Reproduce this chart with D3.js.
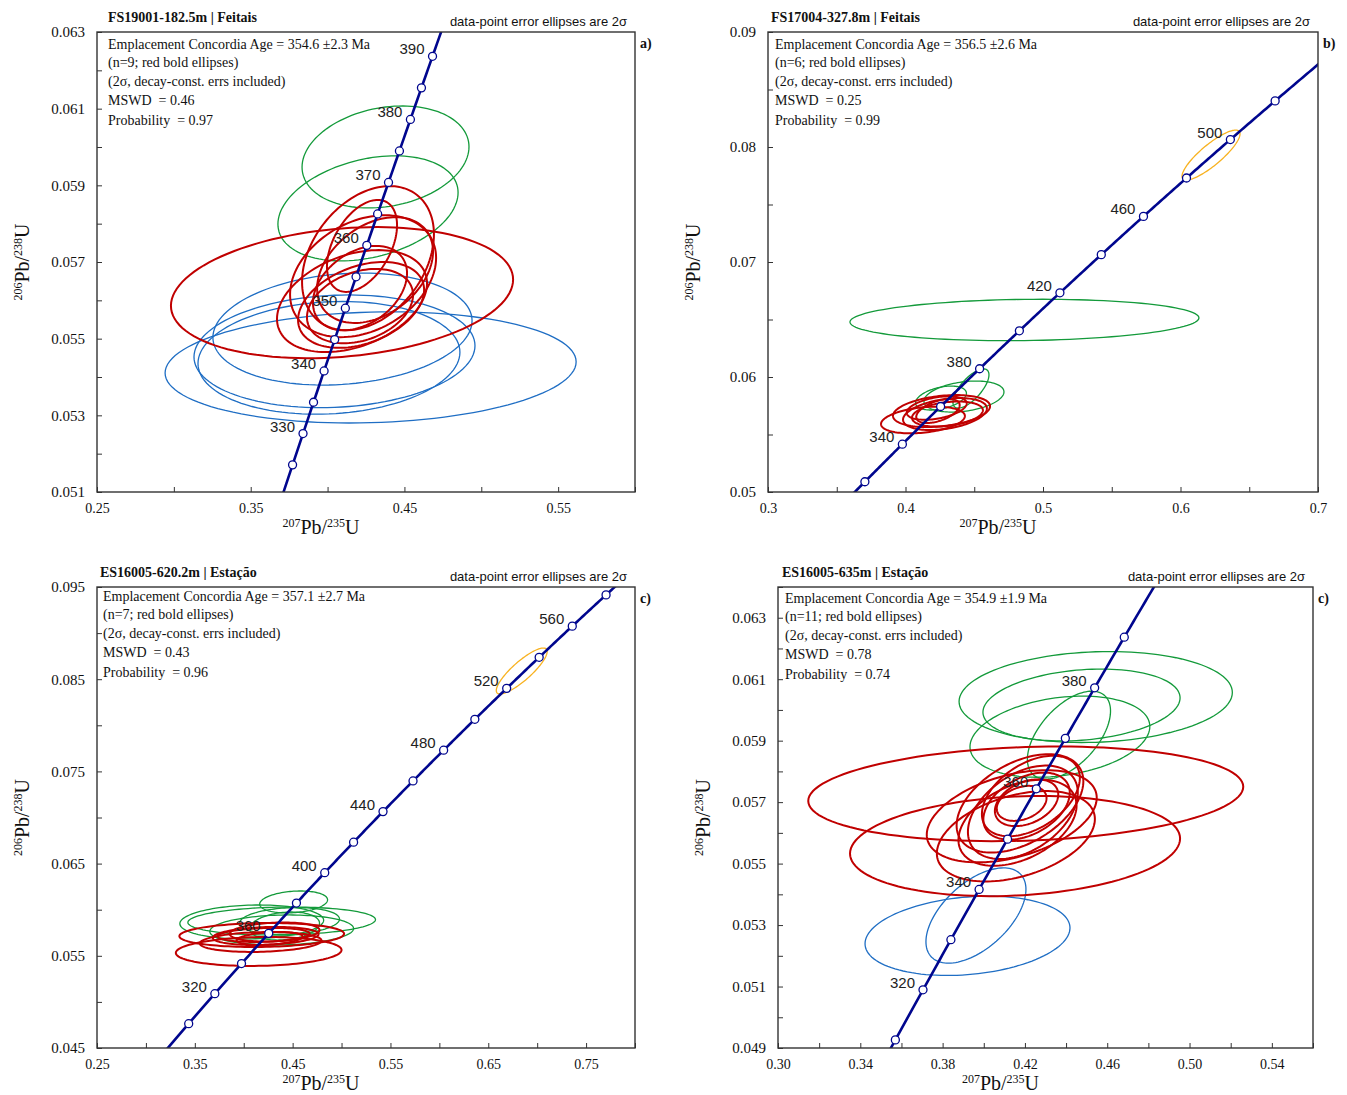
<!DOCTYPE html>
<html>
<head>
<meta charset="utf-8">
<script src="https://cdn.jsdelivr.net/npm/d3@7"></script>
<style>
  body { margin: 0; background: #fff; }
  svg text { font-family: "Liberation Serif", "Times New Roman", serif; fill: #111; }
  svg text.sans { font-family: "Liberation Sans", Arial, sans-serif; }
</style>
</head>
<body>
<div id="chart"></div>
<script>
/* decay constants (per year) */
const L238 = 1.55125e-10, L235 = 9.8485e-10;

/* ---- DATA: ellipses are [x, y, 2s_x, 2s_y, rho] ---- */
const aGreen = [[0.4377,0.05974,0.0543,0.00133,0.2],[0.4263,0.05840,0.0586,0.00137,0.3]];
const aRed = [[0.4094,0.05620,0.1113,0.00171,0.2],[0.4224,0.05742,0.0228,0.00120,0.45],
  [0.4263,0.05710,0.0429,0.00188,0.33],[0.4231,0.05663,0.0475,0.00159,0.3],
  [0.4159,0.05598,0.0488,0.00133,0.35],[0.4218,0.05588,0.0410,0.00112,0.35],
  [0.4211,0.05632,0.0306,0.00110,0.35],[0.4211,0.05585,0.0345,0.00097,0.3],
  [0.4309,0.05679,0.0377,0.00138,0.35]];
const aBlue = [[0.4280,0.05425,0.1337,0.00145,0.1],[0.4097,0.05525,0.0843,0.00146,0.15],
  [0.4045,0.05467,0.0914,0.00147,0.1],[0.4009,0.05450,0.0852,0.00147,0.1]];

const bGreen = [[0.4865,0.06496,0.1269,0.0018,0.1],[0.4476,0.0590,0.0131,0.0017,0.7],
  [0.4258,0.05817,0.0185,0.00104,0.4],[0.4425,0.0583,0.0291,0.00135,0.3]];
const bRed = [[0.4127,0.05626,0.0305,0.00116,0.3],[0.4262,0.05704,0.0353,0.00139,0.3],
  [0.4287,0.05678,0.0305,0.00139,0.35],[0.4305,0.05678,0.0258,0.00109,0.3],
  [0.4227,0.0573,0.0218,0.00102,0.4],[0.4236,0.05704,0.0158,0.00104,0.5]];
const bOrange = [[0.6222,0.0793,0.0211,0.00217,0.85]];

const cGreen = [[0.4510,0.06084,0.0347,0.00119,0.2],[0.4388,0.05877,0.0959,0.00152,0.1],
  [0.4082,0.05867,0.0735,0.00184,0.1],[0.4469,0.05877,0.0510,0.00146,0.15],
  [0.4388,0.05780,0.0735,0.00163,0.1],[0.4418,0.05823,0.0357,0.00152,0.2]];
const cRed = [[0.4153,0.05547,0.0847,0.00157,0.1],[0.4184,0.05726,0.0842,0.00130,0.1],
  [0.4173,0.05650,0.0622,0.00108,0.15],[0.4224,0.05715,0.0541,0.00098,0.2],
  [0.4316,0.05758,0.0459,0.00103,0.2],[0.4265,0.05688,0.0337,0.00070,0.3],
  [0.4204,0.05726,0.0469,0.00076,0.2]];
const cOrange = [[0.6842,0.08589,0.0260,0.00249,0.85]];

const dGreen = [[0.4544,0.06042,0.0664,0.00148,0.1],[0.4475,0.06016,0.0479,0.00117,0.2],
  [0.4370,0.05913,0.0437,0.00132,0.25],[0.4414,0.05918,0.0202,0.00143,0.55]];
const dRed = [[0.4204,0.05727,0.1057,0.00154,0.15],[0.4152,0.05557,0.0802,0.00163,0.15],
  [0.4136,0.05654,0.0413,0.00150,0.4],[0.4156,0.05589,0.0384,0.00147,0.38],
  [0.4176,0.05696,0.0308,0.00160,0.45],[0.4190,0.05667,0.0267,0.00152,0.42],
  [0.4229,0.05720,0.0238,0.00131,0.45],[0.4208,0.05687,0.0210,0.00109,0.4],
  [0.4208,0.05698,0.0154,0.00076,0.35],[0.4184,0.05696,0.0121,0.00057,0.3],
  [0.4164,0.05633,0.0287,0.00140,0.4]];
const dBlue = [[0.3921,0.05265,0.0498,0.00129,0.2],[0.3962,0.05331,0.0243,0.00155,0.55]];

/* concordia marker ages (Ma) and labelled ages */
const aMarks = d3.range(325, 391, 5), aLabels = [330, 340, 350, 360, 370, 380, 390];
const bMarks = d3.range(320, 521, 20), bLabels = [340, 380, 420, 460, 500];
const cMarks = d3.range(300, 581, 20), cLabels = [320, 360, 400, 440, 480, 520, 560];
const dMarks = d3.range(310, 391, 10), dLabels = [320, 340, 360, 380];

/* axis ticks */
const aXMajor = [0.25, 0.35, 0.45, 0.55], aXMinor = [0.30, 0.40, 0.50, 0.60];
const aYMajor = [0.051, 0.053, 0.055, 0.057, 0.059, 0.061, 0.063], aYMinor = [0.052, 0.054, 0.056, 0.058, 0.060, 0.062];
const bXMajor = [0.3, 0.4, 0.5, 0.6, 0.7], bXMinor = [0.35, 0.45, 0.55, 0.65];
const bYMajor = [0.05, 0.06, 0.07, 0.08, 0.09], bYMinor = [0.055, 0.065, 0.075, 0.085];
const cXMajor = [0.25, 0.35, 0.45, 0.55, 0.65, 0.75], cXMinor = [0.30, 0.40, 0.50, 0.60, 0.70, 0.80];
const cYMajor = [0.045, 0.055, 0.065, 0.075, 0.085, 0.095], cYMinor = [0.05, 0.06, 0.07, 0.08, 0.09];
const dXMajor = [0.30, 0.34, 0.38, 0.42, 0.46, 0.50, 0.54], dXMinor = [0.32, 0.36, 0.40, 0.44, 0.48, 0.52, 0.56];
const dYMajor = [0.049, 0.051, 0.053, 0.055, 0.057, 0.059, 0.061, 0.063], dYMinor = [0.050, 0.052, 0.054, 0.056, 0.058, 0.060, 0.062, 0.064];

const titles = ["FS19001-182.5m | Feitais", "FS17004-327.8m | Feitais", "ES16005-620.2m | Estação", "ES16005-635m | Estação"];
const panelTags = ["a)", "b)", "c)", "c)"];
const ageTexts = ["Emplacement Concordia Age = 354.6 \u00b12.3 Ma", "Emplacement Concordia Age = 356.5 \u00b12.6 Ma",
  "Emplacement Concordia Age = 357.1 \u00b12.7 Ma", "Emplacement Concordia Age = 354.9 \u00b11.9 Ma"];
const nTexts = ["(n=9; red bold ellipses)", "(n=6; red bold ellipses)", "(n=7; red bold ellipses)", "(n=11; red bold ellipses)"];
const mswd = ["0.46", "0.25", "0.43", "0.78"];
const prob = ["0.97", "0.99", "0.96", "0.74"];

/* ---- layout ---- */
const width = 1347, height = 1095;
const svg = d3.select('#chart').append('svg').attr('width', width).attr('height', height);

const COLORS = { red: '#c00000', green: '#139a3a', blue: '#1f6ec4', orange: '#f8b220' };

const panels = [
  { box: [97, 635, 32, 492], xd: [0.25, 0.60], yd: [0.051, 0.063], xMaj: aXMajor, xMin: aXMinor, yMaj: aYMajor, yMin: aYMinor,
    xf: '.2f', yf: '.3f', marks: aMarks, labels: aLabels, sets: [['green', aGreen], ['blue', aBlue], ['red', aRed]], tx: 108 },
  { box: [768, 1318, 32, 492], xd: [0.3, 0.7], yd: [0.05, 0.09], xMaj: bXMajor, xMin: bXMinor, yMaj: bYMajor, yMin: bYMinor,
    xf: '.1f', yf: '.2f', marks: bMarks, labels: bLabels, sets: [['green', bGreen], ['orange', bOrange], ['red', bRed]], tx: 775 },
  { box: [97, 635, 587, 1048], xd: [0.25, 0.80], yd: [0.045, 0.095], xMaj: cXMajor, xMin: cXMinor, yMaj: cYMajor, yMin: cYMinor,
    xf: '.2f', yf: '.3f', marks: cMarks, labels: cLabels, sets: [['green', cGreen], ['orange', cOrange], ['red', cRed]], tx: 103 },
  { box: [778, 1313, 587, 1048], xd: [0.30, 0.56], yd: [0.049, 0.064], xMaj: dXMajor, xMin: dXMinor, yMaj: dYMajor, yMin: dYMinor,
    xf: '.2f', yf: '.3f', marks: dMarks, labels: dLabels, sets: [['green', dGreen], ['blue', dBlue], ['red', dRed]], tx: 785 }
];

function conc(t) { // t in Ma
  return [Math.exp(L235 * t * 1e6) - 1, Math.exp(L238 * t * 1e6) - 1];
}
function ellipsePts(e) {
  const [cx, cy, sx, sy, r] = e, q = Math.sqrt(1 - r * r);
  return d3.range(0, 361, 3).map(a => {
    const th = a * Math.PI / 180;
    return [cx + sx * Math.cos(th), cy + sy * (r * Math.cos(th) + q * Math.sin(th))];
  });
}

function ratioLabel(g, x, y, topIso, el, botIso, rot) {
  const t = g.append('text').attr('text-anchor', 'middle')
    .attr('transform', `translate(${x},${y})` + (rot ? ' rotate(-90)' : ''));
  t.append('tspan').attr('font-size', 12).attr('dy', -7).text(topIso);
  t.append('tspan').attr('font-size', 20).attr('dy', 7).text(el + '/');
  t.append('tspan').attr('font-size', 12).attr('dy', -7).text(botIso);
  t.append('tspan').attr('font-size', 20).attr('dy', 7).text('U');
}

panels.forEach((p, i) => {
  const [l, r, t, b] = p.box;
  const x = d3.scaleLinear().domain(p.xd).range([l, r]);
  const y = d3.scaleLinear().domain(p.yd).range([b, t]);
  const g = svg.append('g');

  g.append('clipPath').attr('id', 'clip' + i)
    .append('rect').attr('x', l).attr('y', t).attr('width', r - l).attr('height', b - t);

  // axes: minor ticks, then labelled major ticks (inward)
  const ax = (axisFn, scale, vals, fmt, pad) => axisFn(scale).tickValues(vals).tickSizeInner(-5).tickSizeOuter(0)
    .tickPadding(pad).tickFormat(fmt ? d3.format(fmt) : () => '');
  const gx1 = g.append('g').attr('transform', `translate(0,${b})`).call(ax(d3.axisBottom, x, p.xMin, null, 11));
  const gx2 = g.append('g').attr('transform', `translate(0,${b})`).call(ax(d3.axisBottom, x, p.xMaj, p.xf, 11));
  const gy1 = g.append('g').attr('transform', `translate(${l},0)`).call(ax(d3.axisLeft, y, p.yMin, null, 12));
  const gy2 = g.append('g').attr('transform', `translate(${l},0)`).call(ax(d3.axisLeft, y, p.yMaj, p.yf, 12));
  [gx1, gx2, gy1, gy2].forEach(a => {
    a.select('.domain').remove();
    a.selectAll('line').attr('stroke', '#333');
    a.selectAll('text').attr('font-family', '"Liberation Serif", serif').attr('font-size', 15).attr('fill', '#111');
  });
  gx2.selectAll('text').attr('font-size', 14);

  const plot = g.append('g').attr('clip-path', `url(#clip${i})`);

  // ellipses
  const line = d3.line().x(d => x(d[0])).y(d => y(d[1])).curve(d3.curveLinearClosed);
  p.sets.forEach(([col, list]) => {
    plot.selectAll(null).data(list).join('path')
      .attr('d', d => line(ellipsePts(d)))
      .attr('fill', 'none')
      .attr('stroke', COLORS[col])
      .attr('stroke-width', col === 'red' ? 2 : 1.3);
  });

  // concordia
  const curve = d3.range(200, 700, 1).map(conc);
  plot.append('path')
    .attr('d', d3.line().x(d => x(d[0])).y(d => y(d[1]))(curve))
    .attr('fill', 'none').attr('stroke', '#00068e').attr('stroke-width', 2.6);
  plot.selectAll('circle').data(p.marks).join('circle')
    .attr('cx', d => x(conc(d)[0])).attr('cy', d => y(conc(d)[1])).attr('r', 4)
    .attr('fill', '#fff').attr('stroke', '#00068e').attr('stroke-width', 1.3);
  plot.selectAll('text.age').data(p.labels).join('text')
    .attr('class', 'age sans')
    .attr('x', d => x(conc(d)[0]) - 8).attr('y', d => y(conc(d)[1]) - 2)
    .attr('text-anchor', 'end').attr('font-size', 15).style('fill', '#222')
    .text(d => d);

  // frame
  g.append('rect').attr('x', l).attr('y', t).attr('width', r - l).attr('height', b - t)
    .attr('fill', 'none').attr('stroke', '#333').attr('stroke-width', 1.4);

  // titles & annotations
  g.append('text').attr('x', l + (i === 2 ? 3 : i === 3 ? 4 : i === 1 ? 3 : 11)).attr('y', t - 10)
    .attr('font-size', 14).attr('font-weight', 'bold').text(titles[i]);
  g.append('text').attr('class', 'sans').attr('x', r - 8).attr('y', t - 6)
    .attr('text-anchor', 'end').attr('font-size', 13).text('data-point error ellipses are 2\u03c3');
  g.append('text').attr('x', r + 5).attr('y', t + 16).attr('font-size', 14).attr('font-weight', 'bold').text(panelTags[i]);

  const lines = [ageTexts[i], nTexts[i], '(2\u03c3, decay-const. errs included)',
    'MSWD\u00a0\u00a0= ' + mswd[i], 'Probability\u00a0\u00a0= ' + prob[i]];
  const base = [17, 35, 54, 73, 93];
  g.selectAll(null).data(lines).join('text')
    .attr('x', p.tx).attr('y', (d, k) => t + base[k] + (i >= 2 ? (i === 3 ? -1 : -3) : 0))
    .attr('font-size', 14).text(d => d);

  // axis titles
  ratioLabel(g, (l + r) / 2 - 45, b + 42, '207', 'Pb', '235', false);
  ratioLabel(g, l - 68, (t + b) / 2, '206', 'Pb', '238', true);
});
</script>
</body>
</html>
